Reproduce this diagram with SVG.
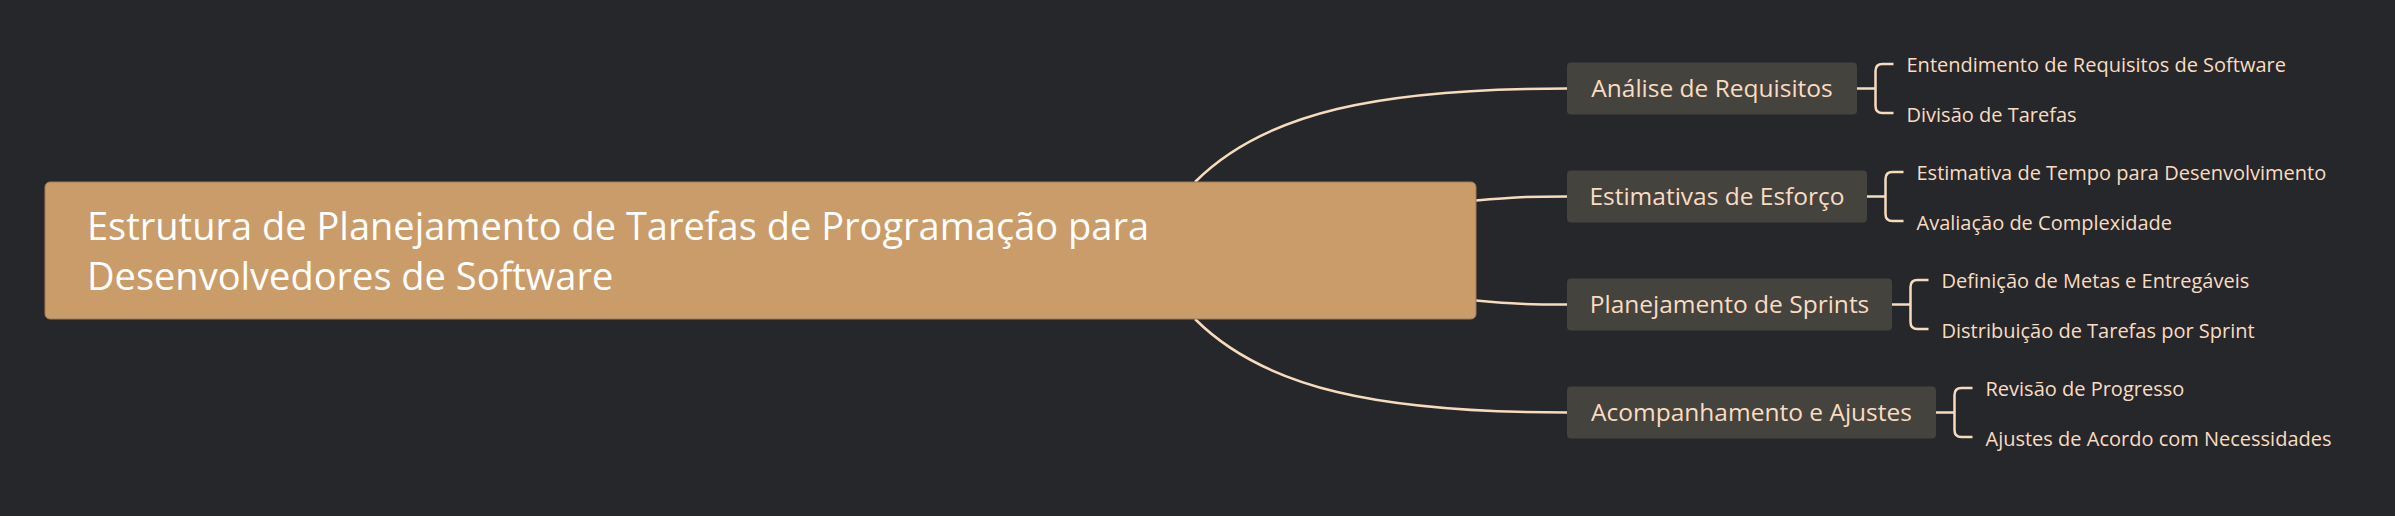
<svg xmlns="http://www.w3.org/2000/svg" width="2395" height="516" viewBox="0 0 2395 516">
  <style>
    .bg { fill: #26272a; }
    .root-box { fill: #c99c69; stroke: #a07c52; stroke-width: 1; }
    .root-text { font-family: "Open Sans", "Noto Sans", sans-serif; font-size: 38px; fill: #ffffff; }
    .branch-box { fill: #45433e; }
    .branch-text { font-family: "Open Sans", "Noto Sans", sans-serif; font-size: 24.5px; fill: #f9dcc1; text-anchor: middle; }
    .leaf-text { font-family: "Open Sans", "Noto Sans", sans-serif; font-size: 20px; fill: #f9dcc1; }
    .conn { fill: none; stroke: #f7dbbf; stroke-width: 2.5; stroke-linecap: butt; }
  </style>
  <rect class="bg" x="0" y="0" width="2395" height="516"/>

  <g id="connectors">
    <path class="conn" d="M1195 182 C1265 112 1380 88.5 1567 88.5"/>
    <path class="conn" d="M1476 200.5 C1515 197 1525 196.5 1567 196.5"/>
    <path class="conn" d="M1476 300.5 C1515 304 1525 304.5 1567 304.5"/>
    <path class="conn" d="M1195 319 C1265 389 1380 412.5 1567 412.5"/>

    <path class="conn" d="M1857 88.5 H1875.5 M1893.5 64 H1882.5 Q1875.5 64 1875.5 71 V106 Q1875.5 113 1882.5 113 H1893.5"/>
    <path class="conn" d="M1867 196.5 H1885.5 M1903.5 172 H1892.5 Q1885.5 172 1885.5 179 V214 Q1885.5 221 1892.5 221 H1903.5"/>
    <path class="conn" d="M1892 304.5 H1910.5 M1928.5 280 H1917.5 Q1910.5 280 1910.5 287 V322 Q1910.5 329 1917.5 329 H1928.5"/>
    <path class="conn" d="M1936 412.5 H1954.5 M1972.5 388 H1961.5 Q1954.5 388 1954.5 395 V430 Q1954.5 437 1961.5 437 H1972.5"/>
  </g>

  <g id="root">
    <rect class="root-box" x="45" y="182" width="1431" height="137" rx="5"/>
    <text class="root-text" x="87" y="240">Estrutura de Planejamento de Tarefas de Programação para</text>
    <text class="root-text" x="87" y="290">Desenvolvedores de Software</text>
  </g>

  <g id="branch-analise">
    <rect class="branch-box" x="1567" y="62.5" width="290" height="52" rx="4"/>
    <text class="branch-text" x="1712" y="97">Análise de Requisitos</text>
  </g>
  <g id="branch-estimativas">
    <rect class="branch-box" x="1567" y="170.5" width="300" height="52" rx="4"/>
    <text class="branch-text" x="1717" y="205">Estimativas de Esforço</text>
  </g>
  <g id="branch-planejamento">
    <rect class="branch-box" x="1567" y="278.5" width="325" height="52" rx="4"/>
    <text class="branch-text" x="1729.5" y="313">Planejamento de Sprints</text>
  </g>
  <g id="branch-acompanhamento">
    <rect class="branch-box" x="1567" y="386.5" width="369" height="52" rx="4"/>
    <text class="branch-text" x="1751.5" y="421">Acompanhamento e Ajustes</text>
  </g>

  <g id="leaf-entendimento"><text class="leaf-text" x="1906.5" y="72">Entendimento de Requisitos de Software</text></g>
  <g id="leaf-divisao"><text class="leaf-text" x="1906.5" y="121.5">Divisão de Tarefas</text></g>
  <g id="leaf-estimativa-tempo"><text class="leaf-text" x="1916.5" y="180">Estimativa de Tempo para Desenvolvimento</text></g>
  <g id="leaf-avaliacao"><text class="leaf-text" x="1916.5" y="229.5">Avaliação de Complexidade</text></g>
  <g id="leaf-definicao"><text class="leaf-text" x="1941.5" y="288">Definição de Metas e Entregáveis</text></g>
  <g id="leaf-distribuicao"><text class="leaf-text" x="1941.5" y="337.5">Distribuição de Tarefas por Sprint</text></g>
  <g id="leaf-revisao"><text class="leaf-text" x="1985.5" y="396">Revisão de Progresso</text></g>
  <g id="leaf-ajustes"><text class="leaf-text" x="1985.5" y="445.5">Ajustes de Acordo com Necessidades</text></g>
</svg>
